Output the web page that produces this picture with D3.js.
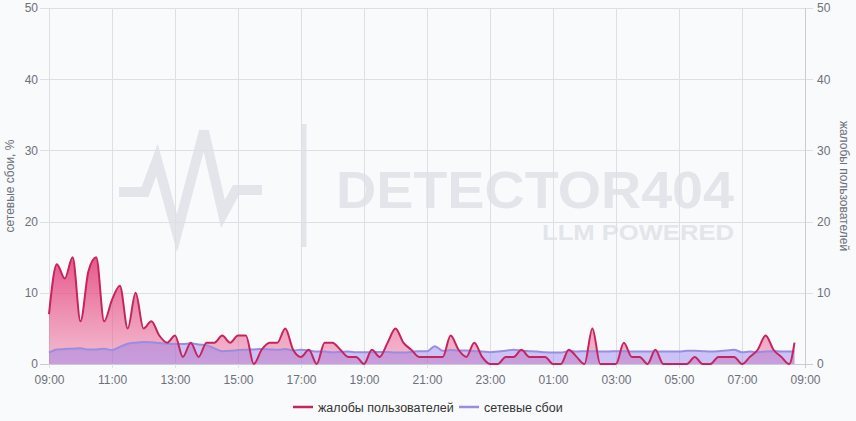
<!DOCTYPE html>
<html><head><meta charset="utf-8">
<script src="https://cdn.jsdelivr.net/npm/d3@7/dist/d3.min.js"></script>
<style>
html,body{margin:0;padding:0;background:#f9fafc;}
svg{display:block;font-family:"Liberation Sans",Arial,sans-serif;}
</style></head>
<body><svg id="c" width="856" height="421"></svg>
<script>
// minutes after 09:00, 15-minute samples; last sample at 08:40
const stepMinutes = 15;
const lastSampleMinutes = 1420;
const complaints = [7,14,12,15,6,13,15,6,9,11,5,10,5,6,4,3,4,1,3,1,3,3,4,3,4,4,0,2,3,3,5,2,1,2,0,3,3,2,1,1,0,2,1,3,5,3,2,1,1,1,1,4,2,1,3,1,0,0,1,1,2,1,1,1,0,0,2,1,0,5,0,0,0,3,1,1,0,2,0,0,0,0,1,0,0,1,1,1,0,1,2,4,2,1,0,3];
const failures = [1.6,2.05,2.1,2.15,2.2,2.05,2.05,2.15,1.95,2.4,2.85,3.0,3.1,3.05,2.95,2.85,2.8,2.8,2.9,2.75,2.65,2.2,1.8,1.85,1.95,2.0,2.05,2.1,2.05,2.0,2.1,1.9,2.0,1.9,1.75,1.75,1.65,1.7,1.75,1.65,1.65,1.65,1.7,1.7,1.6,1.6,1.7,1.8,1.8,2.5,1.85,1.95,1.9,1.9,1.8,1.75,1.65,1.75,1.85,2.0,1.85,1.8,1.75,1.65,1.6,1.6,1.8,1.75,1.8,1.8,1.75,1.75,1.8,1.8,1.75,1.75,1.75,1.75,1.75,1.75,1.75,1.85,1.85,1.8,1.75,1.8,1.9,2.0,1.65,1.75,1.65,1.75,1.8,1.75,1.75,1.8];
const xTickLabels = ["09:00","11:00","13:00","15:00","17:00","19:00","21:00","23:00","01:00","03:00","05:00","07:00","09:00"];
const yTicks = [0,10,20,30,40,50];
const seriesNames = ["жалобы пользователей","сетевые сбои"];
const leftTitle = "сетевые сбои, %";
const rightTitle = "жалобы пользователей";

const times = complaints.map((_, i) => i === complaints.length - 1 ? lastSampleMinutes : i * stepMinutes);

const svg = d3.select("#c");
const L = 49, R = 805, T = 8, B = 364;
const x = d3.scaleLinear().domain([0, 1440]).range([L, R]);
const yL = d3.scaleLinear().domain([0, 50]).range([B, T]);
const yR = d3.scaleLinear().domain([0, 50]).range([B, T]);

const defs = svg.append("defs");
const g1 = defs.append("linearGradient").attr("id","gp").attr("x1",0).attr("y1",0).attr("x2",0).attr("y2",1);
g1.append("stop").attr("offset","0%").attr("stop-color","rgb(226,58,118)").attr("stop-opacity",0.85);
g1.append("stop").attr("offset","100%").attr("stop-color","rgb(236,110,155)").attr("stop-opacity",0.45);

// watermark
const wm = svg.append("g").attr("fill","none").attr("stroke","#e3e5ea");
wm.append("path").attr("stroke-width",10).attr("stroke-linejoin","miter")
  .attr("d","M119,192 L145,192 L157,160 L177,233 L204,131 L223,214 L236,190 L262,190");
wm.append("line").attr("x1",304).attr("x2",304).attr("y1",124).attr("y2",247).attr("stroke-width",5);
svg.append("text").attr("x",734).attr("y",208).attr("text-anchor","end")
  .attr("font-family","'Liberation Sans',Arial,sans-serif").attr("font-weight","bold").attr("font-size",52)
  .attr("textLength",398).attr("lengthAdjust","spacingAndGlyphs").attr("fill","#e3e5ea").text("DETECTOR404");
svg.append("text").attr("x",734).attr("y",239.5).attr("text-anchor","end")
  .attr("font-family","'Liberation Sans',Arial,sans-serif").attr("font-weight","bold").attr("font-size",22)
  .attr("textLength",192).attr("lengthAdjust","spacingAndGlyphs").attr("fill","#e3e5ea").text("LLM POWERED");

// grid
const grid = svg.append("g");
grid.selectAll("line.h").data(yTicks).join("line")
  .attr("x1",L-9).attr("x2",R+8).attr("y1",d=>Math.round(yL(d))+0.5).attr("y2",d=>Math.round(yL(d))+0.5)
  .attr("stroke",d=>d===0?"#c9ccd2":"#dcdfe4").attr("stroke-width",1);
grid.selectAll("line.v").data(xTickLabels).join("line")
  .attr("x1",(d,i)=>Math.round(x(i*120))+0.5).attr("x2",(d,i)=>Math.round(x(i*120))+0.5)
  .attr("y1",T).attr("y2",B+4)
  .attr("stroke",(d,i)=>i===xTickLabels.length-1?"#c9ccd2":"#dcdfe4");

// axes labels via d3 axes
const axL = svg.append("g").attr("transform",`translate(${L-9},0)`)
  .call(d3.axisLeft(yL).tickValues(yTicks).tickSize(0).tickPadding(2));
const axR = svg.append("g").attr("transform",`translate(${R+8},0)`)
  .call(d3.axisRight(yR).tickValues(yTicks).tickSize(0).tickPadding(4));
const axB = svg.append("g").attr("transform",`translate(0,${B+4})`)
  .call(d3.axisBottom(x).tickValues(xTickLabels.map((d,i)=>i*120)).tickFormat((d,i)=>xTickLabels[i]).tickSize(0).tickPadding(7));
[axL,axR,axB].forEach(a=>{a.select(".domain").remove();
  a.selectAll("text").attr("fill","#6e7079").attr("font-size",12).attr("font-family","'Liberation Sans',Arial,sans-serif");});

svg.append("text").attr("transform",`translate(14,186) rotate(-90)`).attr("text-anchor","middle")
  .attr("fill","#6e7079").attr("font-size",12).text(leftTitle);
svg.append("text").attr("transform",`translate(840,186) rotate(90)`).attr("text-anchor","middle")
  .attr("fill","#6e7079").attr("font-size",12).text(rightTitle);

// series
const pts1 = complaints.map((v,i)=>[times[i], v]);
const pts2 = failures.map((v,i)=>[times[i], v]);
const areaR = d3.area().x(d=>x(d[0])).y0(B).y1(d=>yR(d[1])).curve(d3.curveMonotoneX);
const areaL = d3.area().x(d=>x(d[0])).y0(B).y1(d=>yL(d[1])).curve(d3.curveMonotoneX);
const lineR = d3.line().x(d=>x(d[0])).y(d=>yR(d[1])).curve(d3.curveMonotoneX);
const lineL = d3.line().x(d=>x(d[0])).y(d=>yL(d[1])).curve(d3.curveMonotoneX);

svg.append("path").attr("d",areaR(pts1)).attr("fill","url(#gp)");
svg.append("path").attr("d",areaL(pts2)).attr("fill","rgba(140,120,235,0.42)");
svg.append("path").attr("d",lineL(pts2)).attr("fill","none").attr("stroke","#9a8ce2").attr("stroke-width",2);
svg.append("path").attr("d",lineR(pts1)).attr("fill","none").attr("stroke","#c5245f").attr("stroke-width",2);

// legend
const colors = ["#c5245f","#9a8ce2"];
const lg = svg.append("g");
const legX = [293, 459];
seriesNames.forEach((n,i)=>{
  lg.append("line").attr("x1",legX[i]).attr("x2",legX[i]+20).attr("y1",407).attr("y2",407)
    .attr("stroke",colors[i]).attr("stroke-width",2.5);
  lg.append("text").attr("x",legX[i]+25).attr("y",411.5).attr("font-size",12.5).attr("fill","#333").text(n);
});
</script></body></html>
